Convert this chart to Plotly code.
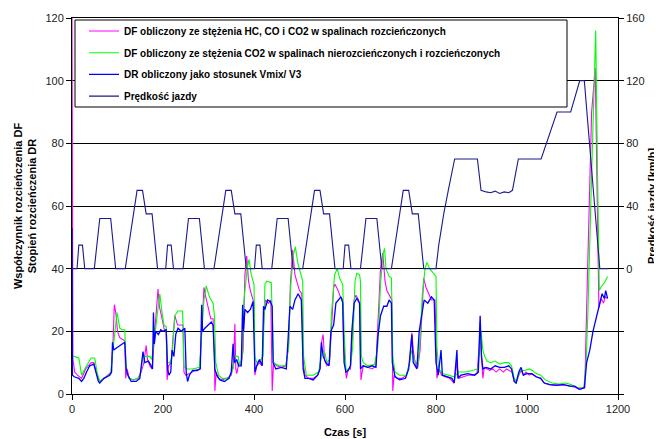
import plotly.graph_objects as go

# ---------------- data ----------------
# DF from HC, CO and CO2 in diluted exhaust: [time s, value]
DF_HC_CO_CO2 = [
    [0, 120], [2, 11], [6, 7], [12, 6], [21, 5], [30, 8], [42, 10], [48, 10], [55, 6], [61, 4],
    [75, 5.5], [86, 7], [90, 16], [93, 28.5], [95, 27], [97, 25], [100, 20], [105, 18], [116, 17],
    [118, 5], [121, 8], [126, 5], [135, 4.5], [145, 5], [152, 7], [158, 10], [163, 15.5], [166, 11],
    [171, 9], [176, 8], [182, 20], [186, 27], [189, 33.5], [192, 28], [197, 25], [203, 20.5],
    [207, 20.5], [209, 4.5], [212, 9], [218, 10], [222, 18], [226, 25], [232, 22], [240, 22],
    [244, 22], [246, 7], [250, 6], [258, 6.5], [270, 7.5], [281, 8], [285, 20], [290, 34],
    [294, 31], [300, 27], [305, 24], [310, 24], [313, 12], [314, 1], [317, 7], [322, 5],
    [330, 4.5], [340, 5], [350, 6], [355, 10], [358, 22.4], [360, 8], [362, 6.5], [367, 10],
    [372, 9], [376, 14], [380, 38], [384, 44], [388, 36], [392, 33], [397, 30], [400, 29],
    [402, 6], [406, 9], [412, 10], [418, 9], [421, 22], [425, 30], [432, 29], [437, 30],
    [440, 1], [443, 10], [450, 9], [460, 8.5], [470, 9], [476, 15], [480, 35], [485, 46],
    [490, 38], [495, 35], [500, 33], [505, 32], [508, 10], [512, 6], [520, 5], [530, 5],
    [540, 6], [545, 8], [549, 17], [552, 19], [555, 11], [560, 9], [566, 10], [570, 20],
    [575, 34], [578, 35], [585, 33], [590, 31], [595, 30], [597, 15], [600, 9], [603, 5],
    [607, 8], [612, 8], [616, 18], [620, 30], [624, 31.5], [630, 30], [633, 28], [635, 4.5],
    [640, 9], [650, 8.5], [660, 8], [668, 9], [673, 25], [678, 40], [683, 45], [688, 36],
    [692, 33], [700, 31], [703, 30], [705, 1], [708, 6], [715, 5], [725, 5], [735, 6],
    [742, 10], [747, 19.5], [750, 14], [755, 9], [760, 8.5], [765, 14], [770, 30], [773, 37],
    [778, 34], [784, 32], [790, 30], [798, 30], [800, 15], [802, 5], [806, 8], [812, 6],
    [820, 5.5], [830, 5], [840, 3.5], [846, 10], [850, 5], [860, 5.5], [870, 6], [880, 6],
    [890, 6.5], [895, 15], [897, 23], [900, 12], [903, 5], [906, 8.5], [912, 8], [918, 7.5],
    [925, 8], [932, 7], [940, 8], [948, 7], [955, 8], [962, 7.5], [967, 7], [972, 4],
    [976, 3.5], [982, 6], [987, 7.5], [992, 6], [998, 7], [1005, 6], [1012, 6.5], [1020, 5.5],
    [1030, 5], [1038, 3.5], [1050, 3], [1065, 2.8], [1080, 3], [1095, 2.5], [1105, 2.2],
    [1115, 1.5], [1127, 2], [1131, 27], [1136, 52], [1142, 90], [1150, 104], [1154, 60],
    [1158, 27.5], [1163, 30.5], [1168, 29], [1172, 31], [1177, 30.5],
]

# DF from CO2 in raw and diluted exhaust: [time s, value]
DF_CO2 = [
    [0, 12], [5, 12], [15, 11.5], [21, 6], [28, 8], [35, 10], [42, 11.5], [50, 11.5], [55, 7],
    [61, 4], [75, 5.5], [85, 6.5], [90, 14], [95, 20], [99, 26], [105, 21], [110, 20.5],
    [116, 20.5], [119, 8], [125, 5], [135, 4.5], [145, 5], [150, 6], [156, 12], [165, 12],
    [171, 12], [175, 11], [180, 16], [187, 25], [193, 32], [197, 27], [202, 22], [207, 21.5],
    [210, 10], [215, 10], [220, 12], [226, 25], [233, 26.5], [243, 26.5], [246, 9], [252, 8],
    [265, 8], [280, 8.5], [286, 20], [290, 30], [295, 34.5], [302, 31], [310, 29], [313, 25],
    [316, 10], [322, 6], [330, 5], [345, 5], [354, 8], [358, 12], [365, 12], [369, 9],
    [374, 12], [378, 30], [385, 40], [389, 43], [394, 38], [398, 36], [400, 35], [402, 12],
    [406, 10], [415, 11], [420, 12], [424, 35], [428, 36], [438, 35.5], [441, 20], [443, 10],
    [455, 9], [470, 9], [476, 15], [480, 33], [486, 44], [491, 47], [496, 42], [504, 38],
    [507, 36], [509, 12], [515, 6], [530, 6], [542, 7], [547, 11], [550, 14], [556, 13],
    [560, 10], [566, 11], [570, 25], [577, 38], [583, 40], [588, 37], [595, 35], [598, 20],
    [602, 8], [606, 7.5], [612, 9], [617, 15], [622, 36], [626, 38.5], [632, 38], [634, 36],
    [636, 12], [640, 10], [650, 9], [665, 9.5], [672, 15], [678, 35], [684, 45], [687, 46.5],
    [690, 40], [697, 37.5], [702, 37], [705, 12], [710, 7], [720, 6], [735, 6], [742, 10],
    [746, 14], [752, 11], [760, 9], [764, 15], [770, 32], [776, 40], [780, 42], [786, 40],
    [795, 38.5], [800, 37.5], [802, 15], [806, 8], [815, 6.5], [830, 6], [840, 5.5], [850, 7],
    [865, 7], [880, 7.5], [892, 8], [896, 14], [899, 20], [903, 14], [907, 12], [912, 10.5],
    [920, 10], [930, 10.5], [940, 9.5], [950, 10], [960, 10], [966, 9], [972, 5], [977, 4],
    [985, 7.5], [995, 7.5], [1005, 8], [1012, 7.5], [1020, 6.5], [1030, 6], [1040, 4.5],
    [1055, 3.5], [1070, 3.2], [1085, 3.5], [1097, 3], [1110, 2], [1125, 2], [1130, 10],
    [1134, 27], [1142, 70], [1151, 116], [1155, 70], [1159, 33], [1162, 34], [1170, 35.5],
    [1177, 37.5],
]

# DR = Vmix / V3: [time s, value]
DR_RATIO = [
    [0, 53], [1, 6], [5, 5.5], [15, 5], [21, 4], [26, 5], [32, 7], [39, 9], [48, 9.5], [52, 7],
    [58, 4], [61, 3.5], [70, 5], [83, 6], [87, 7], [89, 16.5], [92, 14], [96, 14.5], [105, 15.5],
    [116, 16.5], [119, 8], [123, 6], [130, 4], [141, 4], [149, 5], [153, 9], [156, 13.5],
    [160, 10], [168, 10.5], [174, 9], [177, 8], [179, 26], [181, 16], [184, 20], [190, 19],
    [195, 20.5], [200, 20], [207, 20.5], [210, 8], [213, 6], [217, 7], [220, 14], [224, 12],
    [228, 19], [233, 21], [240, 20], [248, 21], [251, 7], [254, 4], [258, 6], [265, 7.5],
    [275, 7.5], [282, 8], [285, 28.5], [287, 20], [292, 21], [300, 22], [306, 23], [310, 22],
    [314, 8], [318, 6], [325, 4.5], [335, 4], [345, 5], [350, 7], [354, 16], [357, 10],
    [362, 11], [366, 9], [372, 9], [375, 28.5], [377, 20], [380, 27], [386, 26], [392, 27],
    [398, 29.5], [402, 7], [406, 9], [412, 11], [418, 9], [421, 28], [424, 27], [430, 30],
    [436, 29.5], [440, 28], [442, 10], [448, 8], [460, 8.5], [471, 8], [475, 20], [479, 28],
    [485, 27], [490, 30], [497, 32], [504, 30], [508, 8], [512, 5], [520, 5], [530, 4.5],
    [540, 6], [545, 8], [548, 16.5], [552, 12], [558, 10], [565, 9], [569, 20], [575, 22],
    [580, 29], [586, 30], [591, 31], [595, 29], [598, 10], [602, 7], [607, 7.5], [612, 9],
    [615, 20], [620, 29], [626, 30.5], [632, 29], [634, 8], [640, 9], [650, 8.5], [660, 9],
    [668, 8.5], [672, 18], [678, 25], [685, 28], [692, 28], [697, 30], [702, 29], [704, 10],
    [710, 5.5], [720, 4.5], [733, 5], [740, 8], [747, 19], [750, 10], [758, 8], [763, 20],
    [768, 24], [774, 30], [782, 29], [790, 31], [796, 30], [800, 10], [805, 6], [811, 14],
    [814, 6], [825, 5.5], [835, 5], [840, 3.5], [846, 14], [848, 5], [855, 6], [870, 6.5],
    [885, 6], [893, 7], [897, 25], [900, 12], [903, 8], [910, 8.5], [920, 8], [930, 9],
    [940, 8.5], [950, 8.5], [960, 9], [966, 8], [972, 4], [976, 3.5], [982, 7], [987, 8.5],
    [992, 6], [1000, 6.5], [1010, 6.5], [1020, 5.5], [1030, 5], [1038, 3.5], [1050, 3],
    [1065, 2.8], [1080, 3], [1095, 2.5], [1105, 2.5], [1115, 1.5], [1126, 2], [1131, 10],
    [1138, 14], [1145, 20], [1152, 24.5], [1160, 29], [1165, 32], [1170, 30.5], [1173, 33],
    [1177, 30.5],
]

# Vehicle speed [time s, km/h] (right axis)
SPEED = [
    [0, 0], [11, 0], [15, 15], [23, 15], [28, 0], [49, 0], [61, 32], [85, 32], [96, 0],
    [117, 0], [143, 50], [155, 50], [163, 35], [176, 35], [188, 0],
    [206, 0], [210, 15], [218, 15], [223, 0], [244, 0], [256, 32], [280, 32], [291, 0],
    [312, 0], [338, 50], [350, 50], [358, 35], [371, 35], [383, 0],
    [401, 0], [405, 15], [413, 15], [418, 0], [439, 0], [451, 32], [475, 32], [486, 0],
    [507, 0], [533, 50], [545, 50], [553, 35], [566, 35], [578, 0],
    [596, 0], [600, 15], [608, 15], [613, 0], [634, 0], [646, 32], [670, 32], [681, 0],
    [702, 0], [728, 50], [740, 50], [748, 35], [761, 35], [773, 0],
    [800, 0], [806, 15], [817, 35], [827, 50], [841, 70], [891, 70], [899, 50], [910, 49],
    [920, 48.5], [930, 49.5], [940, 48], [950, 49], [960, 48.5], [968, 50], [981, 70],
    [1031, 70], [1066, 100], [1096, 100], [1116, 120], [1126, 120], [1160, 0], [1180, 0],
]

X_TICKS = [0, 200, 400, 600, 800, 1000, 1200]
Y_TICKS = [0, 20, 40, 60, 80, 100, 120]
Y2_TICKS = [-80, -40, 0, 40, 80, 120, 160]
Y2_LABELS = ["", "", "0", "40", "80", "120", "160"]

NAMES = [
    "DF obliczony ze stężenia HC, CO i CO2 w spalinach rozcieńczonych",
    "DF obliczony ze stężenia CO2 w spalinach nierozcieńczonych i rozcieńczonych",
    "DR obliczony jako stosunek Vmix/ V3",
    "Prędkość jazdy",
]

FONT = "Arial, Liberation Sans, sans-serif"


def cols(points):
    return [p[0] for p in points], [p[1] for p in points]


fig = go.Figure()
for i, (pts, color, width) in enumerate([
    (DF_HC_CO_CO2, "#ff00ff", 1.1),
    (DF_CO2, "#00ff00", 1.1),
    (DR_RATIO, "#0000ff", 1.3),
]):
    x, y = cols(pts)
    fig.add_trace(go.Scatter(x=x, y=y, mode="lines", name=NAMES[i],
                             legendgroup=f"g{i}",
                             line=dict(color=color, width=width)))

sx, sy = cols(SPEED)
fig.add_trace(go.Scatter(x=sx, y=sy, mode="lines", name=NAMES[3], yaxis="y2",
                         legendgroup="g3",
                         line=dict(color="#1a1a8c", width=1.1)))

# page has an 8px body margin: figure is placed at (8, 8) in the window
OFF = 8
W, H = 662 - OFF, 439 - OFF
L, R, T, B = 72 - OFF, 44, 18 - OFF, 45
pw, ph = W - L - R, H - T - B


def px_x(p):  # window pixel -> paper x
    return (p - OFF - L) / pw


def px_y(p):  # window pixel -> paper y
    return (H - B - (p - OFF)) / ph


fig.add_shape(type="rect", xref="paper", yref="paper",
              x0=px_x(75), x1=px_x(567), y0=px_y(107), y1=px_y(20),
              line=dict(color="black", width=1), fillcolor="white", layer="above")

fig.update_layout(
    width=W, height=H,
    margin=dict(l=L, r=R, t=T, b=B, autoexpand=False),
    paper_bgcolor="white", plot_bgcolor="white",
    font=dict(family=FONT, size=11, color="black"),
    showlegend=True,
    legend=dict(x=px_x(84), y=px_y(16.5), xanchor="left", yanchor="top",
                bgcolor="rgba(0,0,0,0)", borderwidth=0, itemwidth=30,
                font=dict(family=FONT, size=10, color="black", weight="bold"),
                traceorder="grouped", tracegroupgap=2.7),
    xaxis=dict(range=[0, 1200], tickvals=X_TICKS, showgrid=False, zeroline=False,
               showline=True, linecolor="black", linewidth=1, mirror=True,
               ticks="outside", ticklen=5, tickcolor="black",
               tickfont=dict(size=11, color="#222"),
               title=dict(text="Czas [s]", font=dict(size=11, weight="bold"), standoff=14)),
    yaxis=dict(range=[0, 120], tickvals=Y_TICKS, showgrid=True, gridcolor="black",
               gridwidth=1, zeroline=False, showline=True, linecolor="black",
               linewidth=1, ticks="outside", ticklen=5, tickcolor="black",
               tickfont=dict(size=11, color="#222"),
               title=dict(text="Współczynnik rozcieńczenia DF<br>Stopień rozcieńczenia DR",
                          font=dict(size=11, weight="bold"), standoff=6)),
    yaxis2=dict(range=[-80, 160], tickvals=Y2_TICKS, ticktext=Y2_LABELS, overlaying="y",
                side="right", showgrid=False, zeroline=False, showline=True,
                linecolor="black", linewidth=1, ticks="outside", ticklen=5,
                tickcolor="black", tickfont=dict(size=11, color="#222"),
                title=dict(text="Prędkość jazdy [km/h]", font=dict(size=11, weight="bold"),
                           standoff=4)),
)

fig.write_html("out.html")
